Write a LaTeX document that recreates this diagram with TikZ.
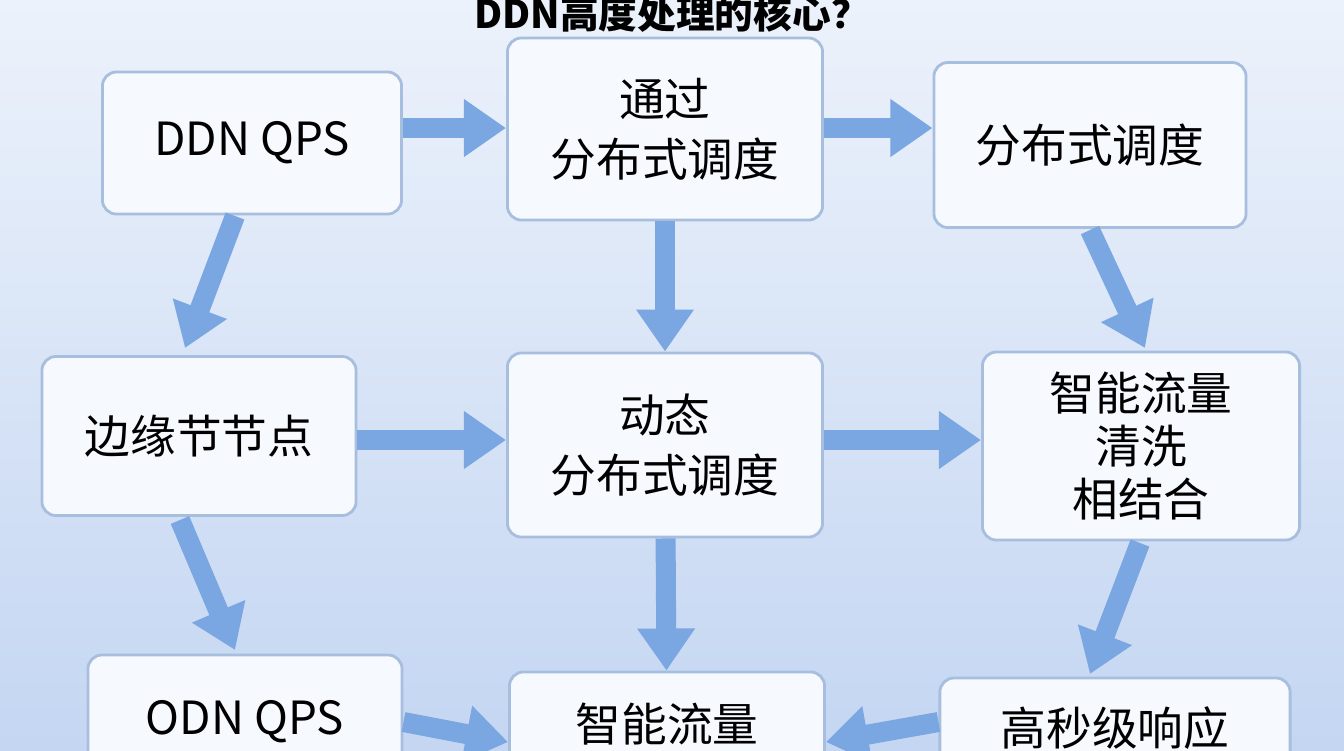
\documentclass[tikz,border=0pt]{standalone}
\usepackage{fontspec}
\setmainfont{Noto Sans CJK SC}
\usepackage{xcolor}
\usepackage{tikz}
\usetikzlibrary{arrows.meta,shapes,shapes.geometric}
\usetikzlibrary{positioning}
\definecolor{arrowblue}{RGB}{122,166,226}
\definecolor{boxedge}{RGB}{168,190,222}
\definecolor{boxfill}{RGB}{246,249,254}
\definecolor{bgtop}{RGB}{236,242,251}
\definecolor{bgbot}{RGB}{196,214,242}

\begin{document}
\begin{tikzpicture}[x=0.01cm, y=-0.01cm,
  box/.style={draw=boxedge, fill=boxfill, rounded corners=4pt, line width=0.8pt,
    align=center, font=\fontsize{13}{17}\selectfont, inner sep=0pt},
  label/.style={font=\fontsize{13}{17}\selectfont, inner sep=0pt},
  flow/.style={draw=arrowblue, line width=0.2cm, -{Triangle[width=0.55cm,length=0.42cm]}}]

\useasboundingbox (0,0) rectangle (1344,750);
\clip (0,0) rectangle (1344,750);
\shade[top color=bgtop, bottom color=bgbot] (0,0) rectangle (1344,750);

\node[font=\fontsize{11}{13}\selectfont\bfseries, inner sep=0pt] (title) at (672,14) {DDN高度处理的核心？};

\node[box, minimum width=2.99cm, minimum height=1.42cm] (qps) at (252,143) {DDN QPS};
\node[box, minimum width=3.15cm, minimum height=1.82cm] (pass) at (665,129) {通过\\分布式调度};
\node[box, minimum width=3.12cm, minimum height=1.65cm] (dist) at (1090,145) {分布式调度};

\node[box, minimum width=3.14cm, minimum height=1.59cm] (edge) at (199,436) {边缘节节点};
\node[box, minimum width=3.15cm, minimum height=1.84cm] (dyn) at (665,445) {动态\\分布式调度};
\node[box, minimum width=3.17cm, minimum height=1.88cm, font=\fontsize{13}{15}\selectfont] (clean) at (1141,446) {智能流量\\清洗\\相结合};

\node[box, minimum width=3.14cm, minimum height=1.90cm] (odn) at (245,750) {};
\node[label] (odntext) at (245,722) {ODN QPS};
\node[box, minimum width=3.15cm, minimum height=1.70cm] (smart) at (667,757) {};
\node[label] (smarttext) at (667,724) {智能流量};
\node[box, minimum width=3.50cm, minimum height=1.60cm] (resp) at (1115,758) {};
\node[label] (resptext) at (1115,728) {高秒级响应};

\coordinate (row1) at (0,128);
\coordinate (row2) at (0,440);
\coordinate (row3) at (0,722);
\coordinate (in3) at (0,742);

\path[flow] (qps.east |- row1) -- (pass.west |- row1);
\path[flow] (pass.east |- row1) -- (dist.west |- row1);
\path[flow] (235,216) -- (185,348);
\path[flow] (pass) -- (dyn);
\path[flow] (1090,230) -- (1145,348);

\path[flow] (edge.east |- row2) -- (dyn.west |- row2);
\path[flow] (dyn.east |- row2) -- (clean.west |- row2);
\path[flow] (180,520) -- (235,650);
\path[flow] (dyn) -- (smart);
\path[flow] (1140,543) -- (1090,674);

\path[flow] (odn.east |- row3) -- (smart.west |- in3);
\path[flow] (resp.west |- row3) -- (smart.east |- in3);

\end{tikzpicture}
\end{document}
